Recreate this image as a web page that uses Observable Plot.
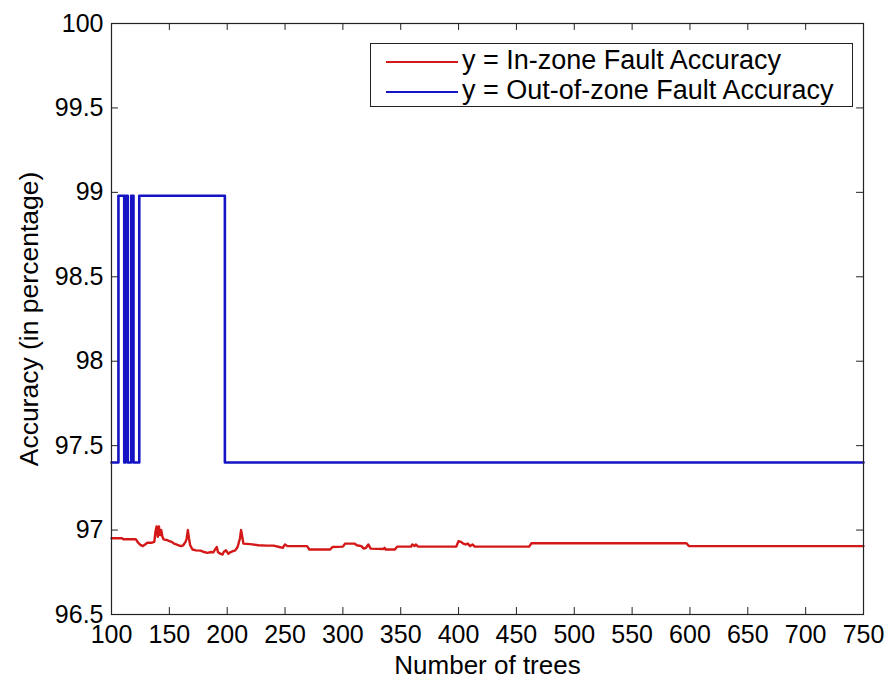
<!DOCTYPE html>
<html>
<head>
<meta charset="utf-8">
<script src="https://cdn.jsdelivr.net/npm/d3@7"></script>
<script src="https://cdn.jsdelivr.net/npm/@observablehq/plot@0.6"></script>
<style>
  body { margin: 0; background: #fff; }
  #wrap { position: relative; width: 889px; height: 682px; font-family: "Liberation Sans", Arial, sans-serif; }
  #legend { position: absolute; left: 370px; top: 43px; width: 483px; height: 64px; box-sizing: border-box;
            border: 1px solid #222; background: #fff; }
  .row { position: absolute; left: 0; height: 30px; width: 100%; }
  .sw { position: absolute; left: 15px; width: 72px; height: 0; top: 50%; }
  .lab { position: absolute; left: 91px; top: 50%; transform: translateY(-52%); font-size: 27px; color: #000; white-space: nowrap; line-height: 1; }
</style>
</head>
<body>
<div id="wrap"></div>
<script>
// ---- data ----
const xTicks = [100, 150, 200, 250, 300, 350, 400, 450, 500, 550, 600, 650, 700, 750];
const yTicks = [96.5, 97, 97.5, 98, 98.5, 99, 99.5, 100];
const seriesNames = ["y = In-zone Fault Accuracy", "y = Out-of-zone Fault Accuracy"];
const seriesColors = ["#d41818", "#1414c4"];

// Out-of-zone fault accuracy (step values)
const outTrees = [100, 106, 111, 112, 114, 117, 119, 124, 198, 750];
const outAcc   = [97.4, 98.98, 97.4, 98.98, 97.4, 98.98, 97.4, 98.98, 97.4, 97.4];

// In-zone fault accuracy
const inTrees = [100,109,110,121,123,125,127,129,131,135,137,138,139,140,141,142,143,144,145,148,150,152,154,156,158,160,162,164,165,166,167,168,170,173,177,180,183,186,188,190,191,192,194,196,197,199,201,203,205,207,209,211,212,213,214,217,222,227,234,240,245,248,250,252,269,271,289,291,300,302,310,312,316,318,320,322,324,335,336,337,345,347,359,360,362,363,365,398,400,402,404,406,408,410,412,414,461,463,597,599,750];
const inAcc = [96.952,96.952,96.946,96.946,96.925,96.912,96.905,96.915,96.925,96.925,96.93,96.99,97.022,96.96,97.022,96.97,97.0,96.96,96.945,96.94,96.935,96.93,96.92,96.915,96.91,96.905,96.91,96.93,96.95,97.0,96.95,96.91,96.885,96.88,96.878,96.87,96.865,96.87,96.868,96.89,96.9,96.87,96.86,96.855,96.87,96.88,96.86,96.87,96.875,96.88,96.9,96.95,97.0,96.96,96.92,96.918,96.915,96.91,96.908,96.908,96.9,96.895,96.915,96.905,96.905,96.885,96.885,96.9,96.902,96.92,96.92,96.91,96.905,96.89,96.895,96.915,96.89,96.888,96.895,96.885,96.885,96.902,96.902,96.915,96.905,96.915,96.902,96.902,96.935,96.93,96.92,96.915,96.92,96.905,96.915,96.902,96.902,96.922,96.922,96.905,96.905];

// ---- build ----
const outData = outTrees.map((t, i) => ({t, v: outAcc[i]}));
const inData = inTrees.map((t, i) => ({t, v: inAcc[i]}));
const xMin = xTicks[0], xMax = xTicks[xTicks.length - 1];
const yMin = yTicks[0], yMax = yTicks[yTicks.length - 1];
const tickLenY = 0.041; // ~7px in y units
const tickLenX = 6;     // ~7px in x units

const font = "Liberation Sans, Arial, sans-serif";
const chart = Plot.plot({
  width: 889,
  height: 682,
  marginLeft: 111,
  marginRight: 26,
  marginTop: 23,
  marginBottom: 68,
  style: {fontFamily: font, fontSize: "25px", background: "#fff", color: "#000"},
  x: {domain: [xMin, xMax], label: null},
  y: {domain: [yMin, yMax], label: null},
  marks: [
    Plot.line(outData, {x: "t", y: "v", curve: "step-after", stroke: seriesColors[1], strokeWidth: 2.6}),
    Plot.line(inData, {x: "t", y: "v", stroke: seriesColors[0], strokeWidth: 2.4}),
    Plot.ruleX(xTicks.slice(1, -1), {x: d => d, y1: yMin, y2: yMin + tickLenY, stroke: "#222", strokeWidth: 1}),
    Plot.ruleX(xTicks.slice(1, -1), {x: d => d, y1: yMax, y2: yMax - tickLenY, stroke: "#222", strokeWidth: 1}),
    Plot.ruleY(yTicks.slice(1, -1), {y: d => d, x1: xMin, x2: xMin + tickLenX, stroke: "#222", strokeWidth: 1}),
    Plot.ruleY(yTicks.slice(1, -1), {y: d => d, x1: xMax, x2: xMax - tickLenX, stroke: "#222", strokeWidth: 1}),
    Plot.frame({stroke: "#222", strokeWidth: 1.2}),
    Plot.axisX(xTicks, {tickSize: 0, tickPadding: 11, fontSize: 25, label: null, tickFormat: d => String(d)}),
    Plot.axisY(yTicks, {tickSize: 0, tickPadding: 8, fontSize: 25, label: null, tickFormat: d => String(d)}),
    Plot.text(["Number of trees"], {text: d => d, frameAnchor: "bottom", dy: 51, lineAnchor: "middle", fontSize: 26}),
    Plot.text(["Accuracy (in percentage)"], {text: d => d, frameAnchor: "left", dx: -82, rotate: -90, textAnchor: "middle", lineAnchor: "middle", fontSize: 26.5})
  ]
});

const wrap = document.getElementById("wrap");
wrap.appendChild(chart);

const legend = document.createElement("div");
legend.id = "legend";
seriesNames.forEach((name, i) => {
  const row = document.createElement("div");
  row.className = "row";
  row.style.top = (2 + i * 30) + "px";
  const sw = document.createElement("div");
  sw.className = "sw";
  sw.style.borderTop = "2px solid " + seriesColors[i];
  const lab = document.createElement("div");
  lab.className = "lab";
  lab.textContent = name;
  row.appendChild(sw);
  row.appendChild(lab);
  legend.appendChild(row);
});
wrap.appendChild(legend);
</script>
</body>
</html>
